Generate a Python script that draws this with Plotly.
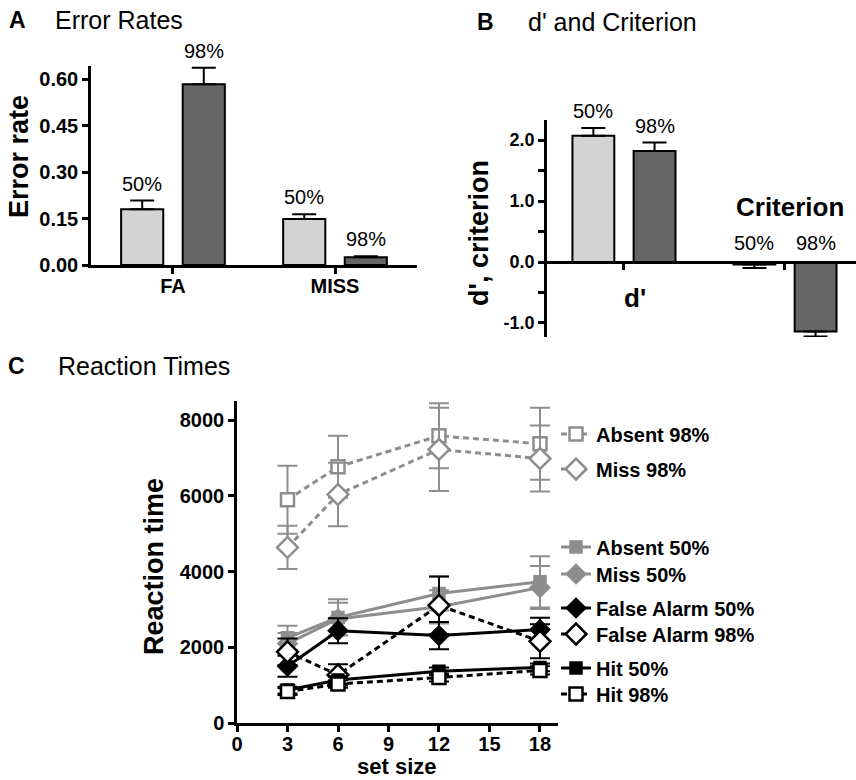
import plotly.graph_objects as go

# ---------------- data ----------------
# Panel A: error rates
err_cats = ["FA", "MISS"]
err_rate_50 = [0.180, 0.148]
err_rate_50_se = [0.028, 0.016]
err_rate_98 = [0.583, 0.025]
err_rate_98_se = [0.053, 0.003]

# Panel B: d' and criterion
sdt_cats = ["d'", "Criterion"]
sdt_50 = [2.07, -0.04]
sdt_50_se = [0.13, 0.06]
sdt_98 = [1.82, -1.14]
sdt_98_se = [0.14, 0.08]

# Panel C: reaction times
set_size = [3, 6, 12, 18]
absent_98 = [5900, 6770, 7590, 7380]
absent_98_se = [900, 820, 860, 950]
miss_98 = [4640, 6040, 7230, 6990]
miss_98_se = [570, 840, 1100, 870]
absent_50 = [2250, 2790, 3420, 3730]
absent_50_se = [320, 480, 450, 680]
miss_50 = [2100, 2750, 3070, 3580]
miss_50_se = [280, 430, 440, 570]
fa_50 = [1500, 2440, 2310, 2470]
fa_50_se = [280, 330, 360, 310]
fa_98 = [1880, 1270, 3110, 2160]
fa_98_se = [350, 280, 760, 450]
hit_50 = [870, 1135, 1370, 1470]
hit_50_se = [90, 100, 100, 100]
hit_98 = [830, 1030, 1200, 1390]
hit_98_se = [90, 100, 100, 110]

# ---------------- style ----------------
W, H = 856, 780
FONT = "Liberation Sans"
LIGHT = "#d3d3d3"
DARK = "#666666"
GREY = "#8e8e8e"
BLACK = "#000000"

def px_x(p):
    return p / W

def px_y(p):
    return 1 - p / H

fig = go.Figure()

# ---------- Panel A ----------
cat_pos = [1, 2]
fig.add_trace(go.Bar(
    x=cat_pos, y=err_rate_50, width=0.26, offset=-0.32,
    marker=dict(color=LIGHT, line=dict(color=BLACK, width=2)),
    error_y=dict(type="data", array=err_rate_50_se, arrayminus=[0, 0], symmetric=False,
                 color=BLACK, thickness=2, width=12),
    xaxis="x", yaxis="y", showlegend=False))
fig.add_trace(go.Bar(
    x=cat_pos, y=err_rate_98, width=0.26, offset=0.06,
    marker=dict(color=DARK, line=dict(color=BLACK, width=2)),
    error_y=dict(type="data", array=err_rate_98_se, arrayminus=[0, 0], symmetric=False,
                 color=BLACK, thickness=2, width=12),
    xaxis="x", yaxis="y", showlegend=False))

# ---------- Panel B ----------
fig.add_trace(go.Bar(
    x=cat_pos, y=sdt_50, width=0.26, offset=-0.32,
    marker=dict(color=LIGHT, line=dict(color=BLACK, width=2)),
    error_y=dict(type="data",
                 array=[e if v > 0 else 0 for v, e in zip(sdt_50, sdt_50_se)],
                 arrayminus=[e if v < 0 else 0 for v, e in zip(sdt_50, sdt_50_se)],
                 symmetric=False, color=BLACK, thickness=2, width=12),
    xaxis="x2", yaxis="y2", showlegend=False))
fig.add_trace(go.Bar(
    x=cat_pos, y=sdt_98, width=0.26, offset=0.06,
    marker=dict(color=DARK, line=dict(color=BLACK, width=2)),
    error_y=dict(type="data",
                 array=[e if v > 0 else 0 for v, e in zip(sdt_98, sdt_98_se)],
                 arrayminus=[e if v < 0 else 0 for v, e in zip(sdt_98, sdt_98_se)],
                 symmetric=False, color=BLACK, thickness=2, width=12),
    xaxis="x2", yaxis="y2", showlegend=False))

# ---------- Panel C ----------
series = [
    ("Absent 98%", absent_98, absent_98_se, GREY, "6px,4px", "square", "white", 13, "legend"),
    ("Miss 98%", miss_98, miss_98_se, GREY, "6px,4px", "diamond", "white", 16, "legend2"),
    ("Absent 50%", absent_50, absent_50_se, GREY, "solid", "square", GREY, 11, "legend3"),
    ("Miss 50%", miss_50, miss_50_se, GREY, "solid", "diamond", GREY, 14, "legend4"),
    ("False Alarm 50%", fa_50, fa_50_se, BLACK, "solid", "diamond", BLACK, 14, "legend5"),
    ("False Alarm 98%", fa_98, fa_98_se, BLACK, "6px,4px", "diamond", "white", 16, "legend6"),
    ("Hit 50%", hit_50, hit_50_se, BLACK, "solid", "square", BLACK, 11, "legend7"),
    ("Hit 98%", hit_98, hit_98_se, BLACK, "6px,4px", "square", "white", 13, "legend8"),
]
for name, vals, se, col, dash, sym, fill, size, leg in series:
    fig.add_trace(go.Scatter(
        x=set_size, y=vals, name=name, mode="lines+markers",
        line=dict(color=col, width=3, dash=dash),
        marker=dict(symbol=sym, size=size, color=fill, line=dict(color=col, width=2.5)),
        error_y=dict(type="data", array=se, color=col, thickness=2, width=10),
        xaxis="x3", yaxis="y3", legend=leg, showlegend=True))

# ---------- axes ----------
axis_common = dict(showline=True, linecolor=BLACK, linewidth=2.5, ticks="outside",
                   ticklen=6, tickwidth=2.5, tickcolor=BLACK, showgrid=False,
                   zeroline=False, fixedrange=True, automargin=False)

def tf(size):
    return dict(family=FONT, size=size, color=BLACK, weight="bold")

# panel A: x 91..417, y 66..265
fig.update_layout(
    xaxis=dict(domain=[px_x(91), px_x(417)], range=[0.494, 2.506], anchor="y",
               tickvals=cat_pos, ticktext=err_cats, tickfont=tf(20),
               ticklabelstandoff=-5, **axis_common),
    yaxis=dict(domain=[px_y(265), px_y(66)], range=[0, 0.642], anchor="x",
               tickvals=[0, 0.15, 0.30, 0.45, 0.60],
               ticktext=["0.00", "0.15", "0.30", "0.45", "0.60"],
               tickfont=tf(20), **axis_common),
)

# panel B: x 547..856, y 120..337, zero at 262
fig.update_layout(
    xaxis2=dict(domain=[px_x(547), 1.0], range=[0.522, 2.441], anchor="free",
                position=px_y(262), tickvals=cat_pos, showticklabels=False, **axis_common),
    yaxis2=dict(domain=[px_y(337), px_y(120)], range=[-1.23, 2.33], anchor="x2",
                tickvals=[-1.0, -0.5, 0.0, 0.5, 1.0, 1.5, 2.0],
                ticktext=["-1.0", "", "0.0", "", "1.0", "", "2.0"],
                tickfont=tf(18), **axis_common),
)

# panel C: x 237..558, y 401..723
fig.update_layout(
    xaxis3=dict(domain=[px_x(237), px_x(558)], range=[0, 19.07], anchor="y3",
                tickvals=[0, 3, 6, 9, 12, 15, 18], tickfont=tf(20),
                ticklabelstandoff=-5, **axis_common),
    yaxis3=dict(domain=[px_y(723), px_y(401)], range=[0, 8510], anchor="x3",
                tickvals=[0, 2000, 4000, 6000, 8000], tickfont=tf(20), **axis_common),
)

# ---------- legends ----------
leg_y = [434, 469, 547, 574, 608, 634, 668, 694]
for i, yy in enumerate(leg_y):
    key = "legend" if i == 0 else f"legend{i + 1}"
    fig.update_layout({key: dict(x=px_x(556), y=px_y(yy), xanchor="left", yanchor="middle",
                                 bgcolor="rgba(0,0,0,0)", font=tf(20),
                                 itemclick=False, itemdoubleclick=False)})

# ---------- annotations ----------
ann = []

def txt(text, x, y, size, bold=False, xref="paper", yref="paper", xanchor="center",
        yanchor="middle", angle=0, yshift=0):
    ann.append(dict(text=text, x=x, y=y, xref=xref, yref=yref, xanchor=xanchor,
                    yanchor=yanchor, showarrow=False, textangle=angle, yshift=yshift,
                    font=dict(family=FONT, size=size, color=BLACK,
                              weight="bold" if bold else "normal")))

# panel titles
txt("A", px_x(7), px_y(20), 23, bold=True, xanchor="left")
txt("Error Rates", px_x(53), px_y(20), 25, xanchor="left")
txt("B", px_x(475), px_y(22), 23, bold=True, xanchor="left")
txt("d' and Criterion", px_x(526), px_y(22), 25, xanchor="left")
txt("C", px_x(6), px_y(366), 23, bold=True, xanchor="left")
txt("Reaction Times", px_x(56), px_y(366), 25, xanchor="left")

# axis titles
txt("Error rate", px_x(19), px_y(157), 27, bold=True, angle=-90)
txt("d', criterion", px_x(479), px_y(233), 27, bold=True, angle=-90)
txt("Reaction time", px_x(154), px_y(567), 27, bold=True, angle=-90)
txt("set size", px_x(397), px_y(766), 22, bold=True)

# bar labels panel A
for i, c in enumerate(cat_pos):
    txt("50%", c - 0.19, err_rate_50[i] + err_rate_50_se[i], 20, xref="x", yref="y",
        yanchor="bottom", yshift=4)
    txt("98%", c + 0.19, err_rate_98[i] + err_rate_98_se[i], 20, xref="x", yref="y",
        yanchor="bottom", yshift=4)

# bar labels panel B
txt("50%", 1 - 0.19, sdt_50[0] + sdt_50_se[0], 20, xref="x2", yref="y2",
    yanchor="bottom", yshift=4)
txt("98%", 1 + 0.19, sdt_98[0] + sdt_98_se[0], 20, xref="x2", yref="y2",
    yanchor="bottom", yshift=4)
txt("50%", 2 - 0.19, 0, 20, xref="x2", yref="y2", yanchor="bottom", yshift=6)
txt("98%", 2 + 0.19, 0, 20, xref="x2", yref="y2", yanchor="bottom", yshift=6)
txt("Criterion", 2.03, 0.90, 26, bold=True, xref="x2", yref="y2")
txt("d'", 1.07, -0.59, 26, bold=True, xref="x2", yref="y2")

fig.update_layout(
    annotations=ann,
    width=W, height=H, autosize=False,
    margin=dict(l=0, r=0, t=0, b=0, pad=0, autoexpand=False),
    paper_bgcolor="white", plot_bgcolor="white",
    barmode="overlay",
    font=dict(family=FONT, color=BLACK),
)

post = (
    "var s=document.createElement('style');"
    "s.textContent='html,body{margin:0;padding:0;overflow:hidden;}';"
    "document.head.appendChild(s);"
)
fig.write_html("out.html",
               config={"displayModeBar": False, "responsive": False},
               post_script=post)
